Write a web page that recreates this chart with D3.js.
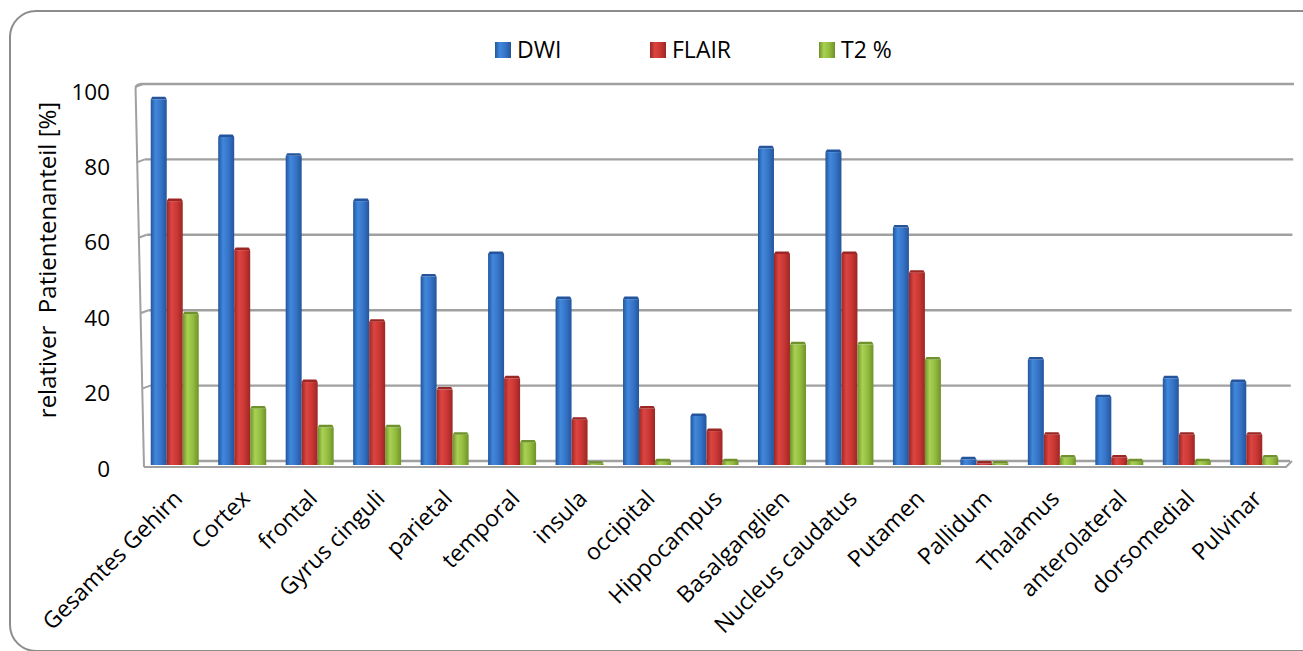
<!DOCTYPE html>
<html>
<head>
<meta charset="utf-8">
<script src="https://cdn.jsdelivr.net/npm/d3@7/dist/d3.min.js"></script>
<style>
  html, body { margin: 0; padding: 0; background: #fff; }
  svg { display: block; font-family: "Open Sans", "Noto Sans", sans-serif; }
</style>
</head>
<body>
<svg id="chart" width="1303" height="651"></svg>
<script>
// Regions of the brain and share of patients with findings per sequence
const categories = ["Gesamtes Gehirn", "Cortex", "frontal", "Gyrus cinguli", "parietal",
  "temporal", "insula", "occipital", "Hippocampus", "Basalganglien", "Nucleus caudatus",
  "Putamen", "Pallidum", "Thalamus", "anterolateral", "dorsomedial", "Pulvinar"];
const dwi   = [97, 87, 82, 70, 50, 56, 44, 44, 13, 84, 83, 63, 1.5, 28, 18, 23, 22];
const flair = [70, 57, 22, 38, 20, 23, 12, 15, 9, 56, 56, 51, 0.4, 8, 2, 8, 8];
const t2    = [40, 15, 10, 10, 8, 6, 0.3, 1, 1, 32, 32, 28, 0.4, 2, 1, 1, 2];
const seriesNames = ["DWI", "FLAIR", "T2 %"];
const yTicks = [0, 20, 40, 60, 80, 100];

const series = [
  { name: seriesNames[0], values: dwi,   light: "#4088dc", mid: "#3673c6", dark: "#24559c" },
  { name: seriesNames[1], values: flair, light: "#dc4541", mid: "#c93734", dark: "#9c2624" },
  { name: seriesNames[2], values: t2,    light: "#a9d153", mid: "#93bb3e", dark: "#6f922a" }
];

const svg = d3.select("#chart");
const defs = svg.append("defs");

// horizontal shading for the column faces
series.forEach((s, i) => {
  const g = defs.append("linearGradient").attr("id", "grad" + i)
    .attr("x1", "0%").attr("x2", "100%").attr("y1", "0%").attr("y2", "0%");
  g.append("stop").attr("offset", "0%").attr("stop-color", s.dark);
  g.append("stop").attr("offset", "30%").attr("stop-color", s.light);
  g.append("stop").attr("offset", "65%").attr("stop-color", s.mid);
  g.append("stop").attr("offset", "100%").attr("stop-color", s.dark);
});

// outer frame
svg.append("rect")
  .attr("x", 10).attr("y", 11).attr("width", 1320).attr("height", 640)
  .attr("rx", 26).attr("ry", 26)
  .attr("fill", "#fff").attr("stroke", "#8c8c8c").attr("stroke-width", 2);

// scales: front plane of the columns and the back wall
const x = d3.scaleBand().domain(categories).range([141, 1288]).padding(0);
const yFront = d3.scaleLinear().domain([0, 100]).range([465, 88]);
const yBack = d3.scaleLinear().domain([0, 100]).range([461, 84]);
const wallX = d3.scaleLinear().domain([0, 100]).range([144, 135]);
const rightX = d3.scaleLinear().domain([0, 100]).range([1290, 1294]);

const gridColor = "#a0a0a0";
const grid = svg.append("g");

// left wall edge
grid.append("path")
  .attr("d", `M${wallX(0)},467 L${wallX(100) + 0.6},${yBack(100) + 6} Q${wallX(100)},${yBack(100)} ${wallX(100) + 6},${yBack(100)}`)
  .attr("fill", "none").attr("stroke", gridColor).attr("stroke-width", 2);

// back wall gridlines with short stubs across the side wall
yTicks.forEach(t => {
  if (t > 0) {
    grid.append("line")
      .attr("x1", wallX(t)).attr("y1", yBack(t) + 3)
      .attr("x2", wallX(t) + 8).attr("y2", yBack(t))
      .attr("stroke", gridColor).attr("stroke-width", 2);
  }
  grid.append("line")
    .attr("x1", t === 100 ? wallX(t) + 5 : wallX(t) + 8).attr("y1", yBack(t))
    .attr("x2", rightX(t)).attr("y2", yBack(t))
    .attr("stroke", gridColor).attr("stroke-width", 2.4);
});

// floor front edge
grid.append("path")
  .attr("d", `M${wallX(0)},467 L${rightX(0) - 4},467 L${rightX(0) + 2},${yBack(0)}`)
  .attr("fill", "none").attr("stroke", gridColor).attr("stroke-width", 2);

// columns
const barW = 16;
const bars = svg.append("g");
series.forEach((s, si) => {
  const g = bars.append("g");
  const cx = d => x(d) + x.bandwidth() / 2 - 1.5 * barW + si * barW;
  g.selectAll("rect.face")
    .data(categories)
    .join("rect")
    .attr("class", "face")
    .attr("x", d => cx(d))
    .attr("y", (d, i) => yFront(s.values[i]))
    .attr("width", barW)
    .attr("height", (d, i) => yFront(0) - yFront(s.values[i]))
    .attr("fill", `url(#grad${si})`);
  // top cap
  g.selectAll("path.cap")
    .data(categories)
    .join("path")
    .attr("class", "cap")
    .attr("d", (d, i) => {
      const x0 = cx(d), y0 = yFront(s.values[i]);
      return `M${x0},${y0} L${x0 + 1.5},${y0 - 2.5} L${x0 + barW - 1.5},${y0 - 2.5} L${x0 + barW},${y0} Z`;
    })
    .attr("fill", s.dark);
});

// y axis tick labels
svg.append("g").selectAll("text")
  .data(yTicks)
  .join("text")
  .attr("x", 110)
  .attr("y", t => yFront(t) + 3)
  .attr("text-anchor", "end")
  .attr("dominant-baseline", "central")
  .attr("font-size", 22.5)
  .attr("fill", "#000")
  .text(t => t);

// y axis title
svg.append("text")
  .attr("transform", "translate(46,260) rotate(-90)")
  .attr("text-anchor", "middle")
  .attr("dominant-baseline", "central")
  .attr("font-size", 24)
  .style("white-space", "pre")
  .text("relativer  Patientenanteil [%]");

// category labels
svg.append("g").selectAll("text")
  .data(categories)
  .join("text")
  .attr("transform", d => `translate(${x(d) + x.bandwidth() / 2 + 9},${500}) rotate(-45)`)
  .attr("text-anchor", "end")
  .attr("font-size", 23)
  .attr("fill", "#000")
  .text(d => d);

// legend
const legendX = [495, 650, 819];
const legend = svg.append("g");
series.forEach((s, i) => {
  legend.append("rect")
    .attr("x", legendX[i]).attr("y", 42).attr("width", 16).attr("height", 16)
    .attr("fill", `url(#grad${i})`);
  legend.append("text")
    .attr("x", legendX[i] + 22).attr("y", 58)
    .attr("font-size", 23)
    .text(s.name);
});
</script>
</body>
</html>
